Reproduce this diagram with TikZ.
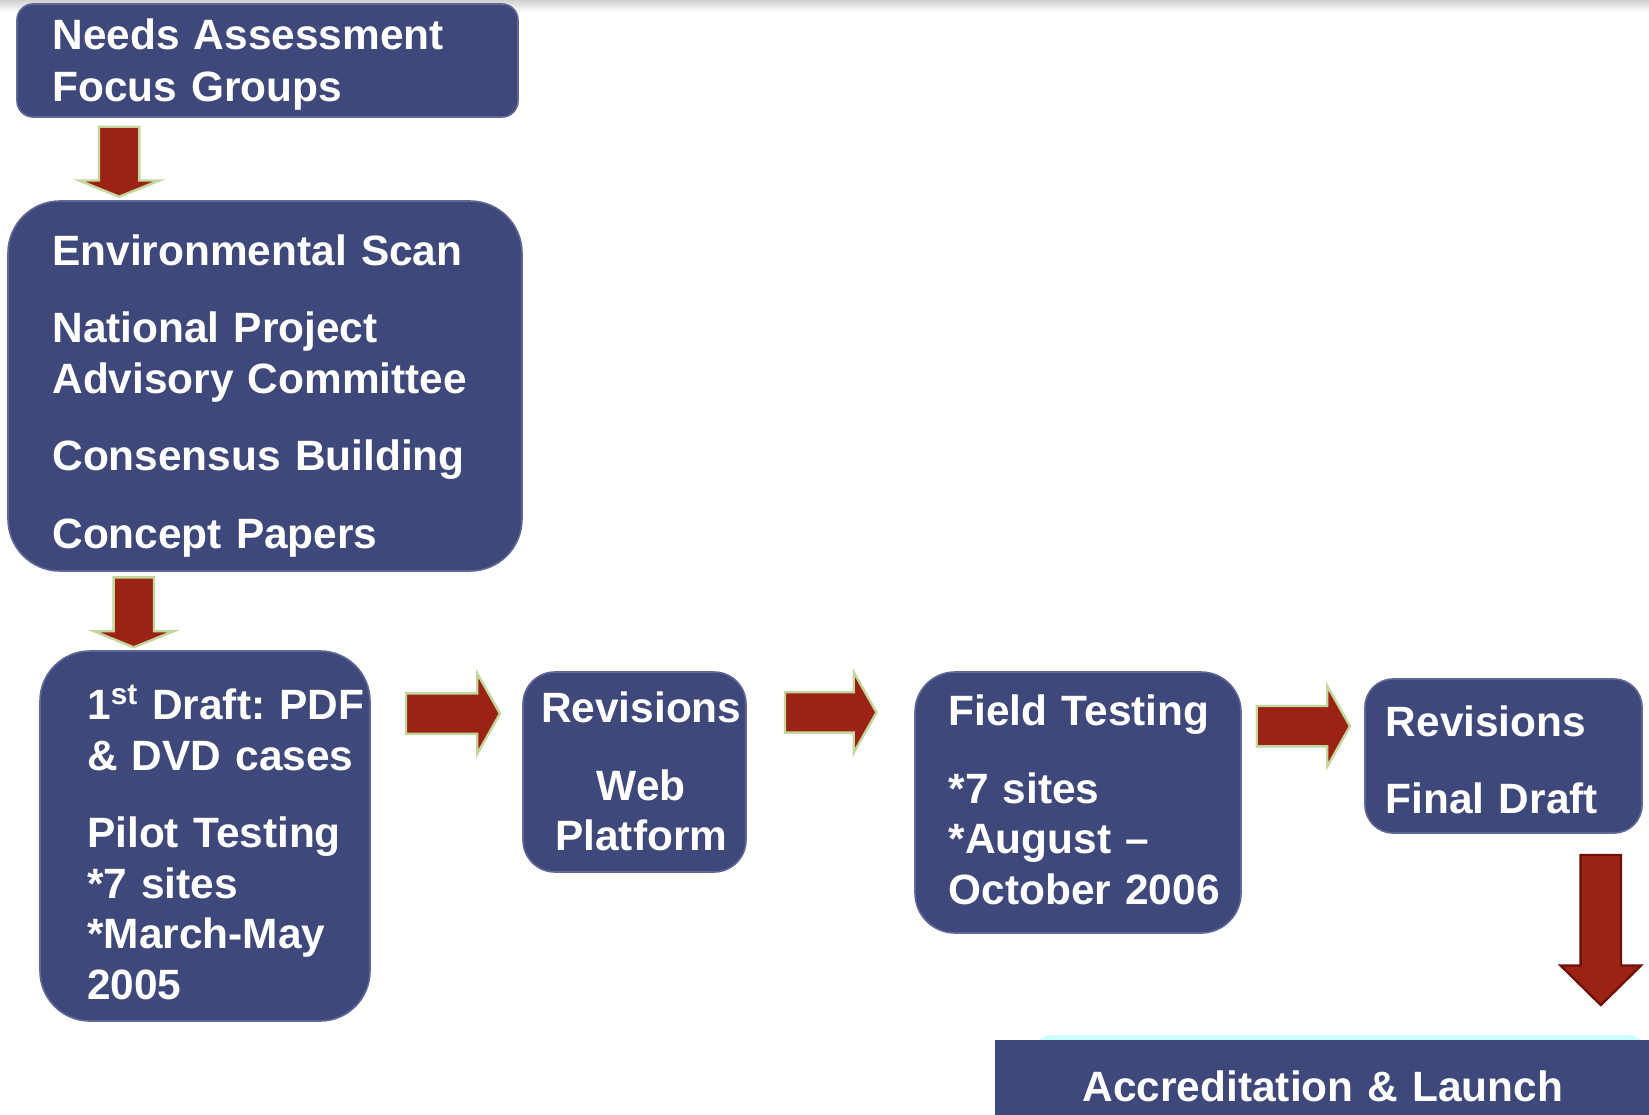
\documentclass[tikz,border=0pt]{standalone}
\usepackage{fontspec}
\setmainfont{Liberation Sans}
\usepackage{tikz}
\usetikzlibrary{shapes.arrows, positioning, backgrounds}

\definecolor{stagefill}{RGB}{63,72,122}
\definecolor{stageedge}{RGB}{95,104,150}
\definecolor{arrowfill}{RGB}{155,35,20}
\definecolor{arrowedge}{RGB}{195,214,155}
\definecolor{arrowdark}{RGB}{110,15,10}
\definecolor{glow}{RGB}{204,255,255}

\newcommand{\stagefont}{\bfseries\fontsize{21.2}{25.3}\selectfont\hyphenpenalty=10000 \exhyphenpenalty=10000 }

\tikzstyle{stage} = [rectangle, draw=stageedge, line width=0.8pt, fill=stagefill, text=white, inner sep=0pt, outer sep=0pt, align=left, font=\stagefont]
\tikzstyle{bigarrow} = [single arrow, draw=arrowedge, line width=1.2pt, fill=arrowfill, inner xsep=0pt, inner ysep=9.5pt, outer sep=0pt, single arrow head extend=10pt]
\tikzstyle{downarrow} = [bigarrow, rotate=-90, anchor=tail, single arrow tip angle=136]
\tikzstyle{rightarrow} = [bigarrow, anchor=tail, single arrow tip angle=121]

\begin{document}
\begin{tikzpicture}
        \useasboundingbox (0,0) rectangle (824.5pt,-557pt);
        \shade [top color=black!18, bottom color=white] (0,0) rectangle (824.5pt,-6pt);

        % stages (text height = first baseline below the top edge)
        \node (needs) [stage, rounded corners=8pt, minimum width=250.5pt, minimum height=56.5pt, text width=215pt, text height=22.7pt, text depth=33.8pt, anchor=north west] at (8.5pt,-2pt) {Needs Assessment\\[0.8pt]Focus Groups};
        \node (envscan) [stage, rounded corners=26pt, minimum width=257pt, minimum height=185pt, text width=212.6pt, text height=32pt, text depth=153pt, below=42pt of needs.south west, anchor=north west, xshift=-4.5pt] {Environmental Scan\\[13.5pt]National Project\\Advisory Committee\\[13.5pt]Consensus Building\\[13.5pt]Concept Papers};
        \node (draft) [stage, rounded corners=25pt, minimum width=165pt, minimum height=185pt, text width=117.8pt, text height=34.2pt, text depth=150.8pt, below=40pt of envscan.south west, anchor=north west, xshift=16pt] {1\textsuperscript{st}~Draft:~PDF\\\&~DVD~cases\\[13.5pt]Pilot~Testing\\{*}7 sites\\{*}March-May\\2005};
        \node (revweb) [stage, rounded corners=16pt, minimum width=111.5pt, minimum height=100pt, text width=111.5pt, text height=25.3pt, text depth=74.7pt, align=center, right=76.5pt of draft.north east, anchor=north west, yshift=-10.5pt] {\hspace*{6.8pt}Revisions\\[13.5pt]\hspace*{6.8pt}Web\\\hspace*{6.8pt}Platform};
        \node (field) [stage, rounded corners=20pt, minimum width=163pt, minimum height=130.5pt, text width=129.4pt, text height=26.8pt, text depth=103.7pt, right=84.5pt of revweb.north east, anchor=north west] {Field~Testing\\[13.5pt]{*}7 sites\\{*}August~--\\October~2006};
        \node (revfinal) [stage, rounded corners=14pt, minimum width=138.5pt, minimum height=77pt, text width=117.7pt, text height=28.6pt, text depth=48.4pt, right=62pt of field.north east, anchor=north west, yshift=-3.5pt] {Revisions\\[13.5pt]Final Draft};
        \node (accred) [stage, draw=none, minimum width=328pt, minimum height=47pt, text width=300pt, text height=30.5pt, text depth=16.5pt, align=center, below=53.5pt of field.south west, anchor=north west, xshift=40pt] {Accreditation \& Launch};
        \begin{scope}[on background layer]
            \fill [glow, rounded corners=8pt] ([xshift=20pt,yshift=2.5pt]accred.north west) rectangle ([xshift=-3pt,yshift=-15pt]accred.north east);
        \end{scope}

        % block arrows between the stages
        \node (arr1) [downarrow, minimum height=35pt] at ([xshift=51.1pt,yshift=-4.85pt]needs.south west) {};
        \node (arr2) [downarrow, minimum height=35pt] at ([xshift=62.9pt,yshift=-3.15pt]envscan.south west) {};
        \node (arr3) [rightarrow, minimum height=47pt] at ([xshift=18pt,yshift=-31.3pt]draft.north east) {};
        \node (arr4) [rightarrow, minimum height=45.75pt] at ([xshift=19.5pt,yshift=-20.2pt]revweb.north east) {};
        \node (arr5) [rightarrow, minimum height=46.65pt] at ([xshift=7.85pt,yshift=-27.1pt]field.north east) {};
        \node (arr6) [downarrow, draw=arrowdark, single arrow tip angle=91, minimum height=75pt] at ([xshift=-20.6pt,yshift=-11pt]revfinal.south east) {};
\end{tikzpicture}
\end{document}
